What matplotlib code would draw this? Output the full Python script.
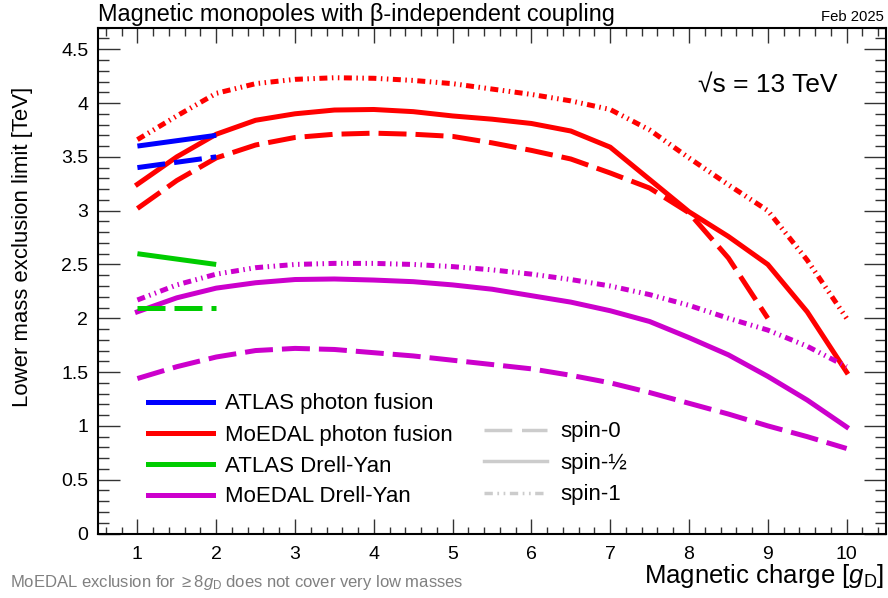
import matplotlib
matplotlib.use("Agg")
import matplotlib.pyplot as plt
from matplotlib.lines import Line2D
from matplotlib.ticker import MultipleLocator

plt.rcParams["font.family"] = ["Liberation Sans", "DejaVu Sans"]
plt.rcParams["mathtext.fontset"] = "custom"
plt.rcParams["mathtext.rm"] = "Liberation Sans"
plt.rcParams["mathtext.it"] = "Liberation Sans:italic"

charge = [1, 1.5, 2, 2.5, 3, 3.5, 4, 4.5, 5, 5.5, 6, 6.5, 7, 7.5, 8, 8.5, 9, 9.5, 10]
charge_to9 = [1, 1.5, 2, 2.5, 3, 3.5, 4, 4.5, 5, 5.5, 6, 6.5, 7, 7.5, 8, 8.5, 9]

# MoEDAL photon fusion limits [TeV]
moedal_pf_spin0 = [3.02, 3.28, 3.49, 3.61, 3.68, 3.71, 3.72, 3.71, 3.69, 3.63, 3.56, 3.48,
                   3.35, 3.21, 2.98, 2.56, 2.0]
moedal_pf_spin12 = [3.245, 3.50, 3.71, 3.84, 3.90, 3.935, 3.94, 3.92, 3.88, 3.85, 3.81, 3.74,
                    3.59, 3.29, 2.99, 2.76, 2.50, 2.06, 1.5]
moedal_pf_spin1 = [3.66, 3.88, 4.09, 4.18, 4.22, 4.235, 4.23, 4.21, 4.18, 4.13, 4.08, 4.02,
                   3.94, 3.75, 3.49, 3.24, 3.0, 2.54, 2.0]

# MoEDAL Drell-Yan limits [TeV]
moedal_dy_spin0 = [1.44, 1.55, 1.64, 1.70, 1.72, 1.71, 1.68, 1.65, 1.61, 1.57, 1.53, 1.47,
                   1.40, 1.31, 1.21, 1.11, 1.0, 0.90, 0.79]
moedal_dy_spin12 = [2.06, 2.19, 2.28, 2.33, 2.36, 2.365, 2.355, 2.34, 2.31, 2.27, 2.21, 2.15,
                    2.07, 1.97, 1.82, 1.66, 1.46, 1.24, 0.99]
moedal_dy_spin1 = [2.17, 2.31, 2.41, 2.47, 2.50, 2.51, 2.51, 2.50, 2.48, 2.45, 2.41, 2.36,
                   2.30, 2.22, 2.12, 2.00, 1.89, 1.74, 1.55]

# ATLAS limits [TeV]
atlas_charge = [1, 2]
atlas_pf_spin0 = [3.4, 3.5]
atlas_pf_spin12 = [3.6, 3.7]
atlas_dy_spin0 = [2.1, 2.1]
atlas_dy_spin12 = [2.6, 2.5]

BLUE = "#0000ff"
RED = "#ff0000"
GREEN = "#00cc00"
MAGENTA = "#cc00cc"
GREY = "#cccccc"

LW = 3.6
STYLE = {
    "spin-0": (0, (5.6, 1.8)),
    "spin-1/2": "-",
    "spin-1": (0, (1.6, 0.9, 0.3, 0.9, 0.3, 0.9)),
}

fig = plt.figure(figsize=(8.88, 5.98), dpi=100)
ax = fig.add_axes([98 / 888, 1 - 533.5 / 598, 788 / 888, (533.5 - 27.7) / 598])

# MoEDAL first, ATLAS on top
ax.plot(charge_to9, moedal_pf_spin0, color=RED, lw=LW, ls=STYLE["spin-0"], dash_capstyle="butt")
ax.plot(charge, moedal_pf_spin12, color=RED, lw=LW, ls=STYLE["spin-1/2"])
ax.plot(charge, moedal_pf_spin1, color=RED, lw=LW, ls=STYLE["spin-1"], dash_capstyle="butt")
ax.plot(charge, moedal_dy_spin0, color=MAGENTA, lw=LW, ls=STYLE["spin-0"], dash_capstyle="butt")
ax.plot(charge, moedal_dy_spin12, color=MAGENTA, lw=LW, ls=STYLE["spin-1/2"])
ax.plot(charge, moedal_dy_spin1, color=MAGENTA, lw=LW, ls=STYLE["spin-1"], dash_capstyle="butt")

ax.plot(atlas_charge, atlas_pf_spin0, color=BLUE, lw=LW, ls=STYLE["spin-0"], dash_capstyle="butt")
ax.plot(atlas_charge, atlas_pf_spin12, color=BLUE, lw=LW, solid_capstyle="butt")
ax.plot(atlas_charge, atlas_dy_spin0, color=GREEN, lw=LW, ls=STYLE["spin-0"], dash_capstyle="butt")
ax.plot(atlas_charge, atlas_dy_spin12, color=GREEN, lw=LW, solid_capstyle="butt")

ax.set_xlim(0.5, 10.5)
ax.set_ylim(0, 4.7)

# ROOT-like frame and ticks
for sp in ax.spines.values():
    sp.set_linewidth(1.5)
ax.xaxis.set_major_locator(MultipleLocator(1))
ax.xaxis.set_minor_locator(MultipleLocator(0.2))
ax.yaxis.set_major_locator(MultipleLocator(0.5))
ax.yaxis.set_minor_locator(MultipleLocator(0.1))
ax.yaxis.set_major_formatter(plt.FuncFormatter(lambda v, p: f"{v:g}"))
ax.tick_params(axis="both", which="both", direction="in", top=True, right=True,
               width=1, labelsize=14, color="#333333")
ax.tick_params(axis="x", which="major", length=10.8, pad=9)
ax.tick_params(axis="x", which="minor", length=5.4)
ax.tick_params(axis="y", which="major", length=16, pad=7)
ax.tick_params(axis="y", which="minor", length=8)

# legends
sample_handles = [
    Line2D([], [], color=BLUE, lw=LW),
    Line2D([], [], color=RED, lw=LW),
    Line2D([], [], color=GREEN, lw=LW),
    Line2D([], [], color=MAGENTA, lw=LW),
]
sample_labels = ["ATLAS photon fusion", "MoEDAL photon fusion", "ATLAS Drell-Yan", "MoEDAL Drell-Yan"]
leg1 = ax.legend(sample_handles, sample_labels, loc="upper left",
                 bbox_to_anchor=(148 / 888, 1 - 393.5 / 598), bbox_transform=fig.transFigure,
                 frameon=False, fontsize=16, handlelength=2.93, handletextpad=0.54,
                 labelspacing=0.45, borderpad=0, borderaxespad=0)
ax.add_artist(leg1)

spin_handles = [
    Line2D([], [], color=GREY, lw=2.5, ls=(0, (8, 2.8)), dash_capstyle="butt"),
    Line2D([], [], color=GREY, lw=2.5),
    Line2D([], [], color=GREY, lw=2.5, ls=(0, (2.4, 1.3, 0.5, 1.3, 0.5, 1.3)), dash_capstyle="butt"),
]
spin_labels = ["spin-0", "spin-\u00bd", "spin-1"]
ax.legend(spin_handles, spin_labels, loc="upper left",
          bbox_to_anchor=(484 / 888, 1 - 421.5 / 598), bbox_transform=fig.transFigure,
          frameon=False, fontsize=16, handlelength=2.84, handletextpad=0.59,
          labelspacing=0.47, borderpad=0, borderaxespad=0)

# texts
fig.text(98 / 888, 1 - 21 / 598, "Magnetic monopoles with \u03b2-independent coupling",
         fontsize=16.9, ha="left", va="baseline")
fig.text(884 / 888, 1 - 21 / 598, "Feb 2025", fontsize=10.7, ha="right", va="baseline")
fig.text(698 / 888, 1 - 85 / 598, "\u221as = 13 TeV", fontsize=19, ha="left", va="center")
fig.text(0.025, 1 - 87 / 598, "Lower mass exclusion limit [TeV]", fontsize=15.9,
         rotation=90, ha="center", va="top")
fig.text(884 / 888, 1 - 583 / 598, r"Magnetic charge [$g_{\mathrm{D}}$]", fontsize=18.5,
         ha="right", va="baseline")
fig.text(10 / 888, 1 - 587 / 598,
         r"MoEDAL exclusion for $\geq$8$g_{\mathrm{D}}$ does not cover very low masses",
         fontsize=12, color="#808080", ha="left", va="baseline")

fig.savefig("out.png", dpi=100)
